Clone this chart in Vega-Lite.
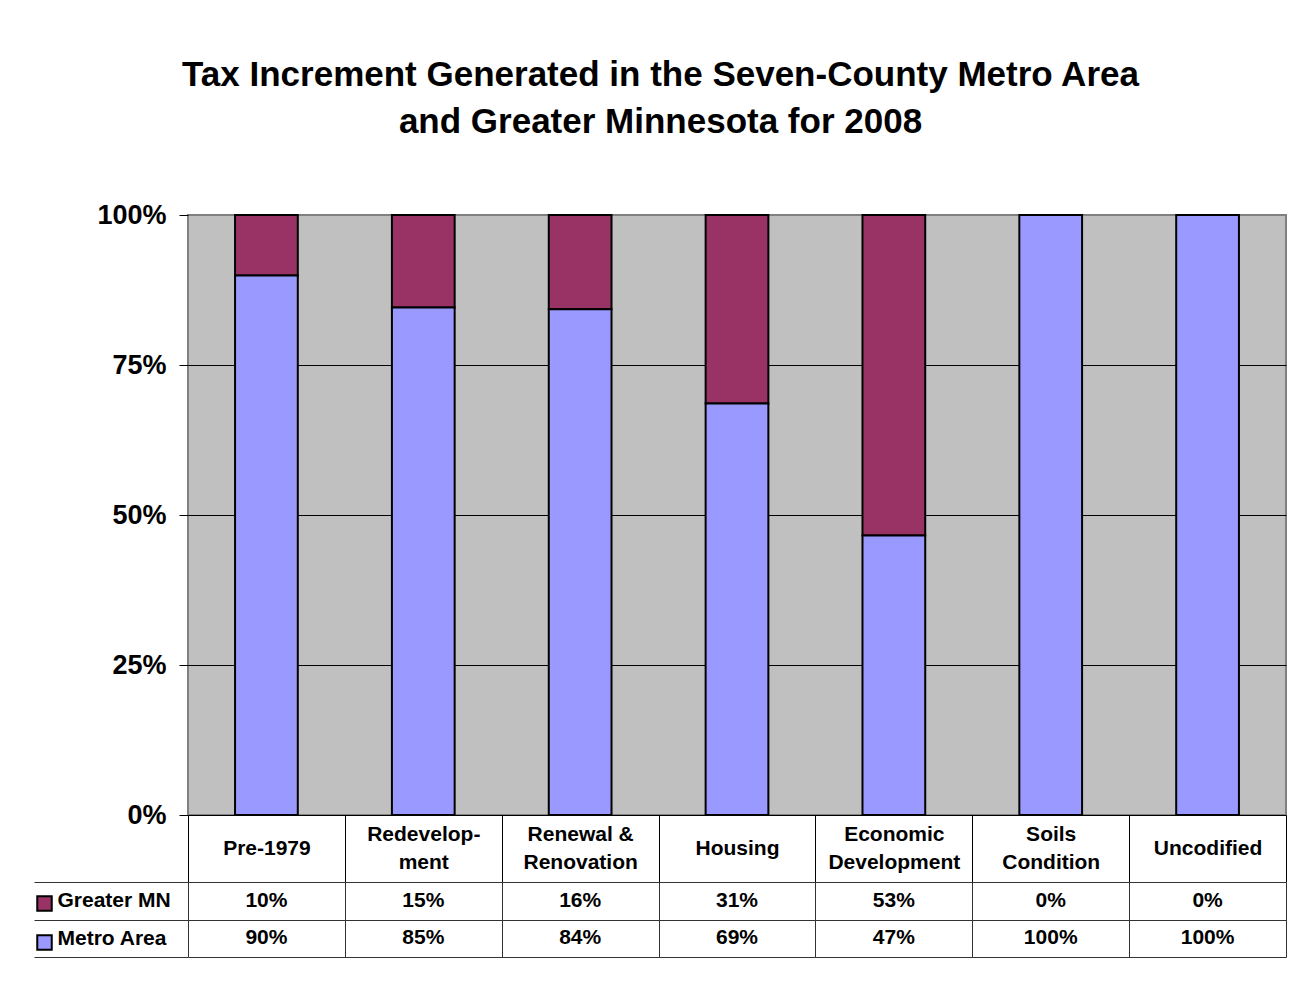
{
  "$schema": "https://vega.github.io/schema/vega-lite/v6.json",
  "background": "white",
  "padding": {"left": 33, "top": 58, "right": 20, "bottom": 20},
  "bounds": "flush",
  "spacing": 67,
  "title": {
    "text": ["Tax Increment Generated in the Seven-County Metro Area", "and Greater Minnesota for 2008"],
    "fontSize": 35,
    "fontWeight": "bold",
    "color": "black",
    "lineHeight": 47,
    "anchor": "middle",
    "offset": 60
  },
  "data": {
    "values": [
      {"category": "Pre-1979", "region": "Greater MN", "share": 0.101},
      {"category": "Pre-1979", "region": "Metro Area", "share": 0.899},
      {"category": "Redevelopment", "region": "Greater MN", "share": 0.154},
      {"category": "Redevelopment", "region": "Metro Area", "share": 0.846},
      {"category": "Renewal & Renovation", "region": "Greater MN", "share": 0.157},
      {"category": "Renewal & Renovation", "region": "Metro Area", "share": 0.843},
      {"category": "Housing", "region": "Greater MN", "share": 0.314},
      {"category": "Housing", "region": "Metro Area", "share": 0.686},
      {"category": "Economic Development", "region": "Greater MN", "share": 0.534},
      {"category": "Economic Development", "region": "Metro Area", "share": 0.466},
      {"category": "Soils Condition", "region": "Greater MN", "share": 0.0},
      {"category": "Soils Condition", "region": "Metro Area", "share": 1.0},
      {"category": "Uncodified", "region": "Greater MN", "share": 0.0},
      {"category": "Uncodified", "region": "Metro Area", "share": 1.0}
    ]
  },
  "resolve": {"legend": {"color": "independent"}},
  "vconcat": [
    {
      "width": 1098,
      "height": 600,
      "view": {"fill": "#C0C0C0", "stroke": "#808080", "strokeWidth": 2},
      "mark": {"type": "bar", "stroke": "black", "strokeWidth": 2, "width": {"band": 0.4}},
      "encoding": {
        "x": {
          "field": "category",
          "type": "nominal",
          "sort": ["Pre-1979", "Redevelopment", "Renewal & Renovation", "Housing", "Economic Development", "Soils Condition", "Uncodified"],
          "scale": {"paddingInner": 0, "paddingOuter": 0},
          "axis": {
            "title": null,
            "grid": false,
            "labelAngle": 0,
            "tickBand": "extent",
            "tickSize": 67,
            "tickColor": "black",
            "tickWidth": 1,
            "domainColor": "black",
            "domainWidth": 1,
            "labelPadding": {"condition": {"test": "datum.value == 'Pre-1979' || datum.value == 'Housing' || datum.value == 'Uncodified'", "value": -33.5}, "value": -47.5},
            "labelBaseline": "middle",
            "labelLineHeight": 28,
            "labelFontSize": 21,
            "labelFontWeight": "bold",
            "labelColor": "black",
            "labelLimit": 0,
            "labelOverlap": false,
            "labelExpr": "datum.value == 'Redevelopment' ? ['Redevelop-', 'ment'] : datum.value == 'Renewal & Renovation' ? ['Renewal &', 'Renovation'] : datum.value == 'Economic Development' ? ['Economic', 'Development'] : datum.value == 'Soils Condition' ? ['Soils', 'Condition'] : datum.label"
          }
        },
        "y": {
          "field": "share",
          "type": "quantitative",
          "stack": "zero",
          "scale": {"domain": [0, 1], "nice": false},
          "axis": {
            "title": null,
            "values": [0, 0.25, 0.5, 0.75, 1],
            "format": ".0%",
            "domain": false,
            "tickSize": 9,
            "tickColor": "black",
            "labelPadding": 13,
            "labelFontSize": 27,
            "labelFontWeight": "bold",
            "labelColor": "black",
            "grid": true,
            "gridColor": {"condition": {"test": "datum.value == 0 || datum.value == 1", "value": "transparent"}, "value": "black"},
            "gridWidth": 1
          }
        },
        "color": {
          "field": "region",
          "type": "nominal",
          "scale": {"domain": ["Greater MN", "Metro Area"], "range": ["#993366", "#9999FF"]},
          "legend": {
            "orient": "none",
            "legendX": -152,
            "legendY": 680,
            "title": null,
            "symbolType": "square",
            "symbolSize": 210,
            "symbolStrokeColor": "black",
            "symbolStrokeWidth": 2,
            "symbolOpacity": 1,
            "labelExpr": "''",
            "labelFontSize": 14,
            "rowPadding": 16,
            "padding": 0
          }
        },
        "order": {"field": "region", "sort": "descending"}
      }
    },
    {
      "width": 1098,
      "height": 75,
      "view": {"stroke": null},
      "mark": {"type": "text", "fontSize": 21, "fontWeight": "bold", "color": "black", "baseline": "middle"},
      "encoding": {
        "x": {
          "field": "category",
          "type": "nominal",
          "sort": ["Pre-1979", "Redevelopment", "Renewal & Renovation", "Housing", "Economic Development", "Soils Condition", "Uncodified"],
          "scale": {"paddingInner": 0, "paddingOuter": 0},
          "axis": {
            "title": null,
            "labels": false,
            "ticks": false,
            "domain": false,
            "grid": true,
            "tickBand": "extent",
            "gridColor": "#333333",
            "gridWidth": 1
          }
        },
        "y": {
          "field": "region",
          "type": "nominal",
          "scale": {"domain": ["Greater MN", "Metro Area"]},
          "axis": {
            "title": null,
            "domain": false,
            "grid": true,
            "tickBand": "extent",
            "gridColor": "#333333",
            "gridWidth": 1,
            "tickSize": 154,
            "tickColor": "#333333",
            "tickWidth": 1,
            "labelAlign": "left",
            "labelPadding": -23,
            "labelFontSize": 21,
            "labelFontWeight": "bold",
            "labelColor": "black"
          }
        },
        "text": {"field": "share", "type": "quantitative", "format": ".0%"}
      }
    }
  ],
  "config": {
    "font": "Liberation Sans",
    "axis": {"labelFont": "Liberation Sans"}
  }
}
